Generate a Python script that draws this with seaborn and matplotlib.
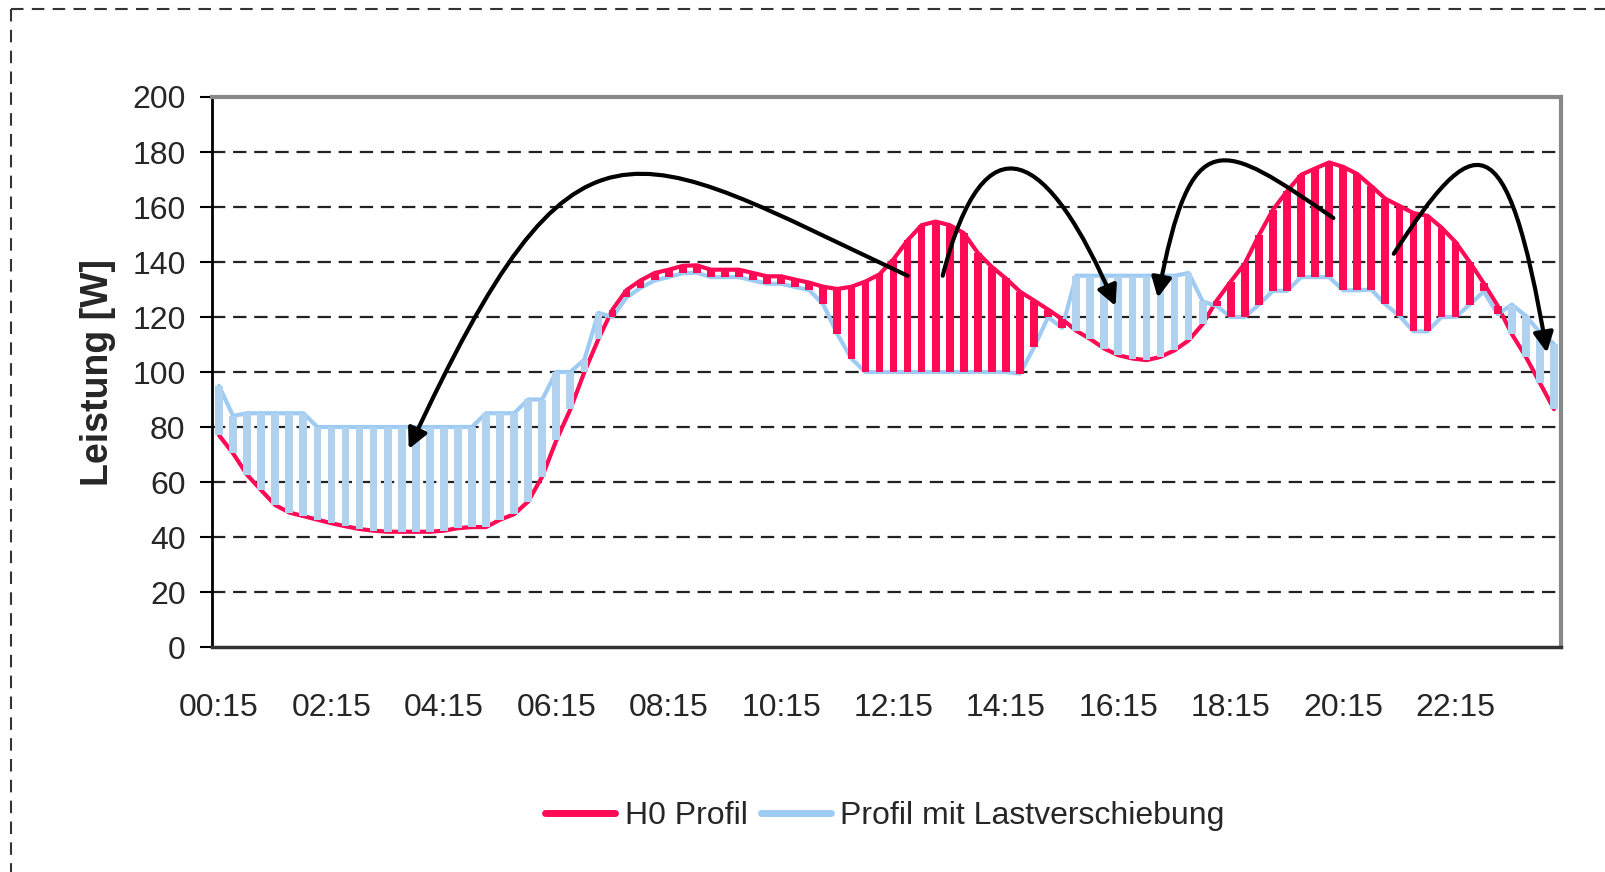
import numpy as np
import pandas as pd
import matplotlib
matplotlib.use('Agg')
import matplotlib.pyplot as plt
from matplotlib.path import Path
from matplotlib.patches import FancyArrowPatch
from matplotlib.lines import Line2D
import seaborn as sns

# quarter-hour load profile, 00:15 ... 24:00 (96 values)
h0_profil = [
    77, 70.4, 62.6, 57, 51.6, 48.9, 47.6, 46.3, 45, 43.9, 42.9, 42.3,
    41.9, 41.9, 41.9, 41.9, 42.3, 43.2, 43.6, 43.6, 46.3, 48.3, 52.9, 62,
    75.1, 86.4, 100, 112, 122.7, 129.8, 133.3, 136, 137.2, 138.6, 138.8, 137.2,
    137.2, 137.2, 136, 134.8, 134.8, 133.6, 132.5, 131, 130.2, 131, 132.9, 135.5,
    141, 147.9, 153.4, 154.7, 153.4, 150.5, 143.3, 138.2, 134, 129.2, 126, 122.7,
    119.2, 115, 112, 108.5, 106.1, 104.9, 104.3, 105.5, 107.9, 111.5, 117.4, 126,
    132.9, 139.5, 149.7, 159, 165.7, 171.7, 174, 176.2, 174.6, 172, 167.6, 163,
    160.4, 157.8, 156.8, 152.5, 147.2, 140, 132.3, 124, 113.8, 105.5, 96, 86.5,
]
lastverschiebung = [
    95, 84, 85, 85, 85, 85, 85, 80, 80, 80, 80, 80,
    80, 80, 80, 80, 80, 80, 80, 85, 85, 85, 90, 90,
    100, 100, 104.5, 121.5, 120, 127.1, 130.6, 133.3, 134.5, 135.9, 136.1, 134.5,
    134.5, 134.5, 133.3, 132.1, 132.1, 130.9, 129.8, 124.6, 113.8, 104.9, 100, 100,
    100, 100, 100, 100, 100, 100, 100, 100, 100, 99.4, 109, 120,
    116, 135, 135, 135, 135, 135, 135, 135, 135, 136, 125.7, 124,
    120, 120, 124.5, 129.5, 129.5, 134.5, 134.5, 134.5, 129.7, 129.7, 130, 124.6,
    120.4, 114.8, 114.8, 120, 120, 124.5, 129.3, 121, 124.5, 120.4, 114.4, 110.2,
]
zeiten = [f"{m // 60:02d}:{m % 60:02d}" for m in range(15, 24 * 60 + 1, 15)]
y_ticks = [0, 20, 40, 60, 80, 100, 120, 140, 160, 180, 200]

RED = '#FF0A55'
BLUE_LINE = '#9ECBF4'
BLUE_BAR = '#B1D2EE'

df = pd.DataFrame({'slot': np.arange(len(zeiten)), 'zeit': zeiten,
                   'h0': h0_profil, 'shift': lastverschiebung})

sns.set_style('white')
plt.rcParams['font.family'] = ['Liberation Sans', 'DejaVu Sans']

fig = plt.figure(figsize=(16.05, 8.72), dpi=100)
ax = fig.add_axes([212 / 1605, 1 - 647 / 872, (1561 - 212) / 1605, (647 - 97) / 872])

sns.lineplot(data=df, x='slot', y='h0', color=RED, lw=3, ax=ax, zorder=2)
sns.lineplot(data=df, x='slot', y='shift', color=BLUE_LINE, lw=3, ax=ax, zorder=2.5)

# up/down bars between the two profiles
lo = df[['h0', 'shift']].min(axis=1)
diff = (df['h0'] - df['shift']).abs()
bar_cols = [RED if a > b else BLUE_BAR for a, b in zip(df['h0'], df['shift'])]
ax.bar(df['slot'], diff, bottom=lo, width=0.55, color=bar_cols, linewidth=0, zorder=3)

# curved arrows showing the shifted load
arrows = [
    [(49, 135), (29, 183), (25.5, 204), (13.5, 72)],
    [(51.5, 135), (54.5, 195), (59, 181), (63.8, 124)],
    [(79.3, 156), (71.3, 184), (69.2, 192), (66.8, 127)],
    [(83.6, 143), (89.3, 188), (91.6, 194), (94.5, 107)],
]
for pts in arrows:
    p = Path(pts, [Path.MOVETO, Path.CURVE4, Path.CURVE4, Path.CURVE4])
    ax.add_patch(FancyArrowPatch(path=p, arrowstyle='-|>', mutation_scale=30,
                                 color='black', lw=3, shrinkA=0, shrinkB=0, zorder=5))

ax.set_xlim(-0.5, 95.5)
ax.set_ylim(0, 200)
ax.set_yticks(y_ticks)
ax.set_xticks(df['slot'][::8], df['zeit'][::8])
ax.set_xticks(np.arange(-0.5, 96, 4), minor=True)
ax.tick_params(axis='x', which='major', length=0, pad=33, labelsize=23)
ax.tick_params(axis='x', which='minor', length=9, width=1.5, direction='out', color='black')
ax.tick_params(axis='y', length=9, width=1.5, direction='out', color='black', pad=10, labelsize=23)
ax.tick_params(left=True, bottom=True)

for v in y_ticks[1:-1]:
    ax.axhline(v, color='#222222', lw=1.6, ls=(0, (6, 3.5)), zorder=1)

ax.spines['left'].set_color('black')
ax.spines['left'].set_linewidth(2)
ax.spines['bottom'].set_color('#333333')
ax.spines['bottom'].set_linewidth(2.5)
ax.spines['top'].set_color('#888888')
ax.spines['top'].set_linewidth(3)
ax.spines['right'].set_color('#888888')
ax.spines['right'].set_linewidth(3)

ax.set_xlabel('')
ax.set_ylabel('Leistung [W]', fontweight='bold', fontsize=27)
ax.yaxis.set_label_coords(-0.071, 0.5)

handles = [Line2D([], [], color=RED, lw=5), Line2D([], [], color=BLUE_LINE, lw=5)]
fig.legend(handles, ['H0 Profil', 'Profil mit Lastverschiebung'], loc='center',
           bbox_to_anchor=(885 / 1605, 1 - 816 / 872), ncol=2, frameon=False, fontsize=23,
           handlelength=2.2, handletextpad=0.3, columnspacing=0.4)

# dashed frame of the original figure
fig.add_artist(Line2D([11 / 1605, 1.0], [1 - 9 / 872, 1 - 9 / 872], color='#333333', lw=1.5,
                      ls=(0, (6, 4)), transform=fig.transFigure))
fig.add_artist(Line2D([11 / 1605, 11 / 1605], [1 - 9 / 872, 0.0], color='#333333', lw=1.5,
                      ls=(0, (6, 4)), transform=fig.transFigure))

fig.savefig('out.png', dpi=100)
